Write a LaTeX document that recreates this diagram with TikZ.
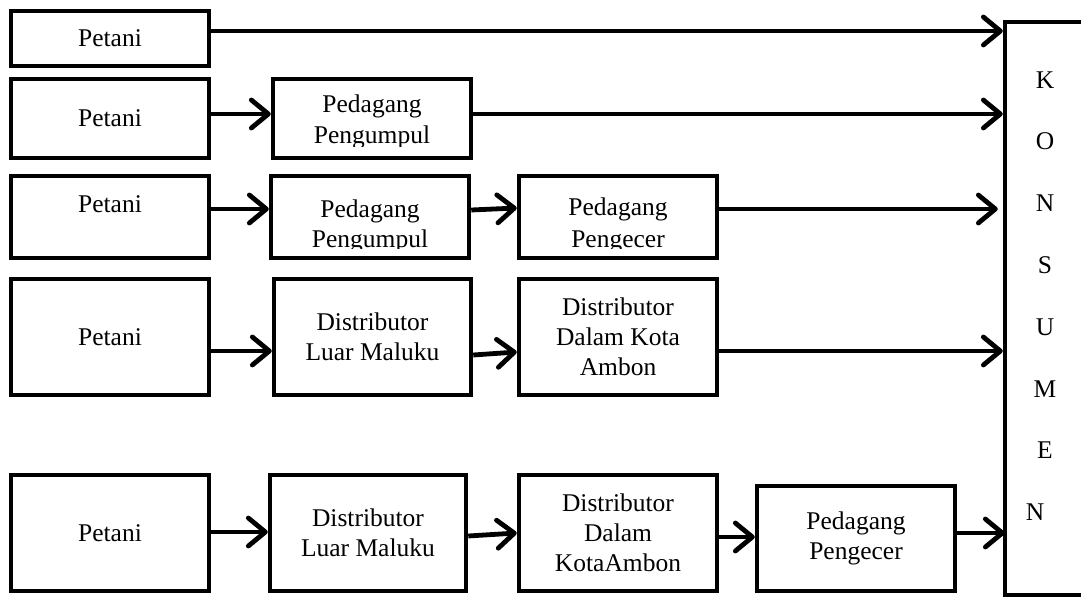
\documentclass[tikz,border=0pt]{standalone}
\usepackage{fontspec}
\setmainfont{Liberation Serif}
\usetikzlibrary{arrows.meta}
\tikzset{
  box/.style={draw, line width=4.5pt, rectangle, inner sep=0pt, align=center},
  txt/.style={inner sep=0pt, align=center},
  ltr/.style={inner sep=0pt},
  arr/.style={line width=4.8pt, -{Straight Barb[length=17pt,width=28pt,line cap=round,line join=round]}},
  ln/.style={line width=4.8pt}
}
\begin{document}
\begin{tikzpicture}[x=1pt,y=-1pt,font=\fontsize{25.5}{30}\selectfont]
\useasboundingbox (0,0) rectangle (1081,599);
% KONSUMEN
\node[box, minimum width=100pt, minimum height=573pt] (kon) at (1055,308.5) {};
\node[ltr] (k1) at (1045,80) {K};
\node[ltr] (k2) at (1045,141) {O};
\node[ltr] (k3) at (1045,203) {N};
\node[ltr] (k4) at (1045,265) {S};
\node[ltr] (k5) at (1045,327) {U};
\node[ltr] (k6) at (1045,389) {M};
\node[ltr] (k7) at (1045,450) {E};
\node[ltr] (k8) at (1035,512) {N};
% Row 1
\node[box, minimum width=198pt, minimum height=55pt] (p1) at (110,38.5) {Petani};
\draw[arr] ([yshift=7.5pt]p1.east) -- ([yshift=7.5pt]p1.east -| kon.west);
% Row 2
\node[box, minimum width=198pt, minimum height=79pt] (p2) at (110,118.5) {Petani};
\node[box, minimum width=198pt, minimum height=79pt] (pp2) at (372,118.5) {};
\begin{scope}
\clip (273,79) rectangle (471,146);
\node[txt, anchor=base] (pp2a) at (372,113) {Pedagang};
\node[txt, anchor=base] (pp2b) at (372,143) {Pengumpul};
\end{scope}
\draw[arr] ([yshift=4.5pt]p2.east) -- ([yshift=4.5pt]pp2.west);
\draw[arr] ([yshift=4.5pt]pp2.east) -- ([yshift=4.5pt]pp2.east -| kon.west);
% Row 3
\node[box, minimum width=198pt, minimum height=82pt] (p3) at (110,217) {};
\node[txt, anchor=base] (p3t) at (110,212) {Petani};
\node[box, minimum width=198pt, minimum height=82pt] (pp3) at (370,217) {};
\node[box, minimum width=198pt, minimum height=82pt] (pe3) at (618,217) {};
\begin{scope}
\clip (271,176) rectangle (469,248);
\node[txt, anchor=base] (pp3a) at (370,217) {Pedagang};
\node[txt, anchor=base] (pp3b) at (370,247) {Pengumpul};
\end{scope}
\begin{scope}
\clip (519,176) rectangle (717,248);
\node[txt, anchor=base] (pe3a) at (618,215) {Pedagang};
\node[txt, anchor=base] (pe3b) at (618,247) {Pengecer};
\end{scope}
\draw[arr] ([yshift=8pt]p3.east) -- ([yshift=8pt]pp3.west);
\draw[arr] ([yshift=7pt]pp3.east) -- ([yshift=9pt]pe3.west);
\draw[arr] ([yshift=8pt]pe3.east) -- ([yshift=8pt,xshift=-5pt]pe3.east -| kon.west);
% Row 4
\node[box, minimum width=198pt, minimum height=116pt] (p4) at (110,337) {Petani};
\node[box, minimum width=197pt, minimum height=116pt] (d4) at (372.5,337) {Distributor\\Luar Maluku};
\node[box, minimum width=198pt, minimum height=116pt] (dd4) at (618,337) {Distributor\\Dalam Kota\\Ambon};
\draw[arr] ([yshift=-14pt]p4.east) -- ([yshift=-14pt]d4.west);
\draw[arr] ([yshift=-18pt]d4.east) -- ([yshift=-15pt]dd4.west);
\draw[arr] ([yshift=-14pt]dd4.east) -- ([yshift=-14pt]dd4.east -| kon.west);
% Row 5
\node[box, minimum width=198pt, minimum height=116pt] (p5) at (110,533) {Petani};
\node[box, minimum width=196pt, minimum height=116pt] (d5) at (368,533) {Distributor\\Luar Maluku};
\node[box, minimum width=198pt, minimum height=116pt] (dd5) at (618,533) {Distributor\\Dalam\\KotaAmbon};
\node[box, minimum width=198pt, minimum height=105pt] (pe5) at (856,538.5) {Pedagang\\Pengecer};
\draw[arr] ([yshift=1pt]p5.east) -- ([yshift=1pt]d5.west);
\draw[arr] ([yshift=-3pt]d5.east) -- (dd5.west);
\draw[arr] ([yshift=-4pt]dd5.east) -- ([yshift=1.5pt]pe5.west);
\draw[arr] ([yshift=5.5pt]pe5.east) -- ([yshift=5.5pt,xshift=2pt]pe5.east -| kon.west);
\end{tikzpicture}
\end{document}
